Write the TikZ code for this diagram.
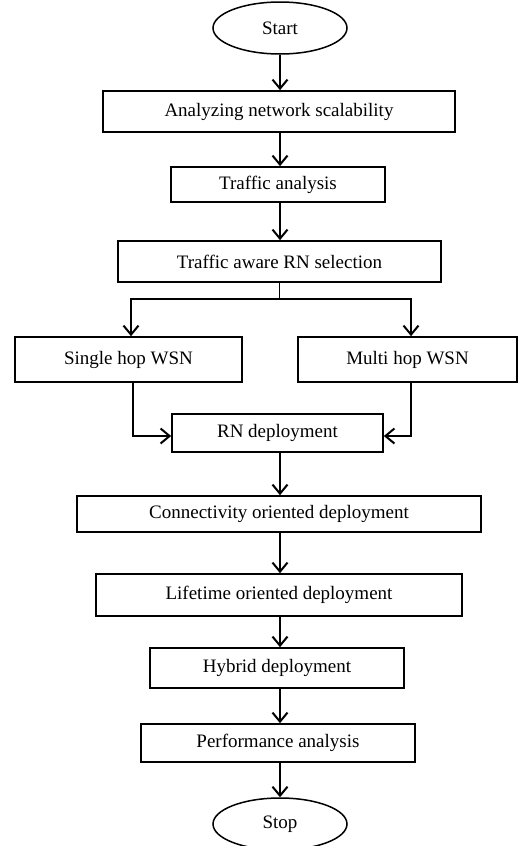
\documentclass[tikz,border=0pt]{standalone}
\usepackage{fontspec}
\setmainfont{Liberation Serif}
\usetikzlibrary{shapes.geometric,arrows.meta}
\begin{document}
\begin{tikzpicture}[x=1pt,y=-1pt,
  box/.style={draw,line width=1.7pt,rectangle,inner sep=0pt,font=\fontsize{19}{22}\selectfont},
  term/.style={draw,line width=1.5pt,ellipse,inner sep=0pt,font=\fontsize{19}{22}\selectfont},
  arr/.style={line width=1.6pt,-{Straight Barb[length=9pt,width=15pt,line width=2pt]}}]
\useasboundingbox (0,0) rectangle (519,846);
\clip (0,0) rectangle (519,846);
\node[term,minimum width=134pt,minimum height=52pt] (start) at (280,28) {Start};
\node[box,minimum width=352pt,minimum height=41pt] (b1) at (279,111.5) {Analyzing network scalability};
\node[box,minimum width=214pt,minimum height=35pt] (b2) at (278,184.5) {Traffic analysis};
\node[box,minimum width=323pt,minimum height=41pt] (b3) at (279.5,261.5) {Traffic aware RN selection};
\node[box,minimum width=227pt,minimum height=45pt] (single) at (128.5,359.5) {Single hop WSN};
\node[box,minimum width=219pt,minimum height=45pt] (multi) at (407.5,359.5) {Multi hop WSN};
\node[box,minimum width=211pt,minimum height=38pt] (rn) at (277.5,433) {RN deployment};
\node[box,minimum width=404pt,minimum height=36pt] (conn) at (279,514) {Connectivity oriented deployment};
\node[box,minimum width=366pt,minimum height=42pt] (life) at (279,595) {Lifetime oriented deployment};
\node[box,minimum width=254pt,minimum height=40pt] (hyb) at (277,668) {Hybrid deployment};
\node[box,minimum width=274pt,minimum height=38pt] (perf) at (278,743) {Performance analysis};
\node[term,minimum width=134pt,minimum height=52pt] (stop) at (280,824) {Stop};
\coordinate (br) at (279.5,299);
\coordinate (bl) at (131,299);
\coordinate (brr) at (411,299);
\draw[arr] (start.south) -- (start.south |- b1.north);
\draw[arr] ([xshift=1pt]b1.south) -- ([xshift=1pt]b1.south |- b2.north);
\draw[arr] ([xshift=2pt]b2.south) -- ([xshift=2pt]b2.south |- b3.north);
\draw[line width=1.6pt] (b3.south) -- (br);
\draw[arr] (bl) -- (brr) -- (brr |- multi.north);
\draw[arr] (br) -- (bl) -- (bl |- single.north);
\draw[arr] ([xshift=4.5pt]single.south) |- ([yshift=-3pt]rn.west);
\draw[arr] ([xshift=3.5pt]multi.south) |- ([yshift=-3pt]rn.east);
\draw[arr] ([xshift=2.5pt]rn.south) -- ([xshift=2.5pt]rn.south |- conn.north);
\draw[arr] ([xshift=1pt]conn.south) -- ([xshift=1pt]conn.south |- life.north);
\draw[arr] ([xshift=1pt]life.south) -- ([xshift=1pt]life.south |- hyb.north);
\draw[arr] ([xshift=3pt]hyb.south) -- ([xshift=3pt]hyb.south |- perf.north);
\draw[arr] ([xshift=2pt]perf.south) -- ([xshift=2pt]perf.south |- stop.north);
\end{tikzpicture}
\end{document}
